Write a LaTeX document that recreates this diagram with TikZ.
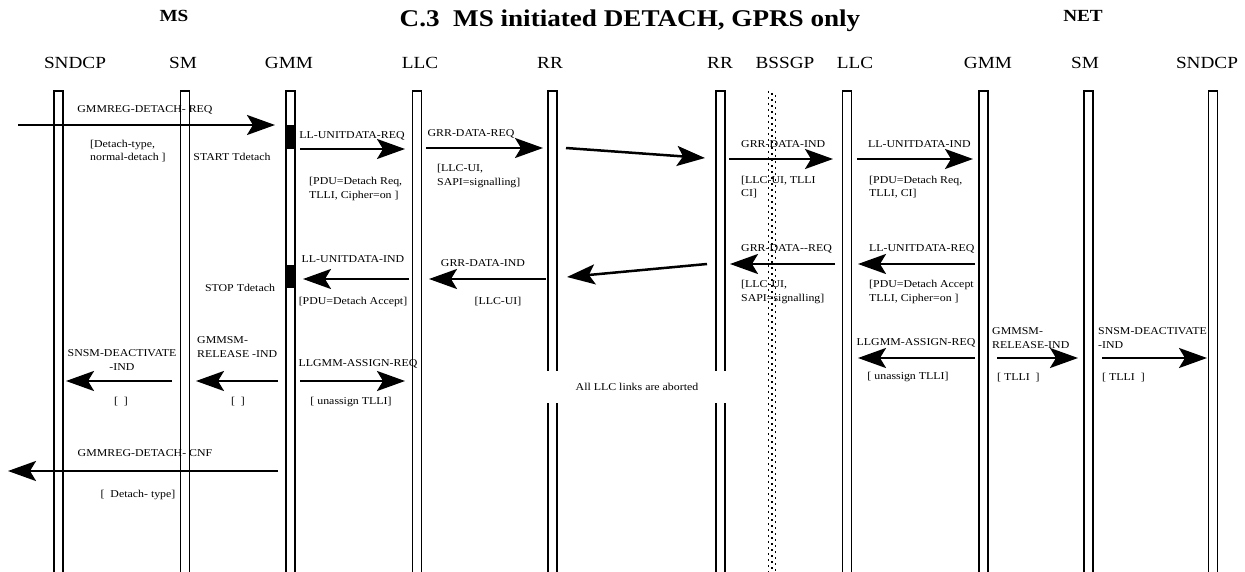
\documentclass[tikz,border=0pt]{standalone}
\usepackage{fontspec}
\setmainfont{Liberation Serif}[FakeStretch=1.13]
\usetikzlibrary{arrows.meta}
\tikzset{
  lbl/.style={font=\fontsize{10.5}{13.5}\selectfont, inner sep=0pt, align=left},
  lblc/.style={lbl, align=center},
  hdr/.style={font=\fontsize{17}{20}\selectfont, inner sep=0pt},
  msg/.style={line width=2.5pt, -{Stealth[length=28pt,width=20pt,inset=6pt]}},
  bar/.style={line width=1.1pt},
  dots/.style={line width=1.8pt, dash pattern=on 1.6pt off 4.4pt},
}
\begin{document}
\begin{tikzpicture}[x=1pt, y=-1pt, line join=miter]
  \useasboundingbox (0,0) rectangle (1245,572);
  % titles
  \node[hdr, font=\fontsize{17}{20}\selectfont\bfseries] (ms) at (174,16) {MS};
  \node[hdr, font=\fontsize{24}{28}\selectfont\bfseries] (title) at (630,21) {C.3\ \ MS initiated DETACH, GPRS only};
  \node[hdr, font=\fontsize{17}{20}\selectfont\bfseries] (net) at (1083,16) {NET};
  % layer names
  \foreach \x/\t/\n in {75/SNDCP/hsndcpMS, 183/SM/hsmMS, 289/GMM/hgmmMS, 420/LLC/hllcMS,
      550/RR/hrrMS, 720/RR/hrrNET, 785/BSSGP/hbssgp, 855/LLC/hllcNET, 988/GMM/hgmmNET,
      1085/SM/hsmNET, 1207/SNDCP/hsndcpNET}
    \node[hdr] (\n) at (\x,63) {\t};
  % lifelines
  \foreach \x/\n in {58.5/sndcpMS, 185/smMS, 290.5/gmmMS, 417/llcMS, 552.5/rrMS,
      720.5/rrNET, 847/llcNET, 983.5/gmmNET, 1088.5/smNET, 1213/sndcpNET} {
    \draw[bar] (\x-4.5,572) -- (\x-4.5,91) -- (\x+4.5,91) -- (\x+4.5,572);
    \coordinate (\n) at (\x,91);
  }
  % BSSGP boundary
  \draw[dots] (768.5,91) -- (768.5,572);
  \draw[dots, dash phase=4pt] (772,91) -- (772,572);
  \draw[dots, dash phase=2pt] (775.5,91) -- (775.5,572);
  % Tdetach running
  \fill (286,125) rectangle (295,149);
  \fill (286,265) rectangle (295,288);

  % detach request
  \draw[msg] (18,125) coordinate (m1s) -- (275,125) coordinate (m1e);
  \node[lblc] (m1) at (145,110) {GMMREG-DETACH- REQ};
  \node[lbl, anchor=west] (m1p) at (90,151) {[Detach-type,\\ normal-detach ]};
  \node[lblc] (tstart) at (232,157) {START Tdetach};
  \draw[msg] (300,149) coordinate (m2s) -- (405,149) coordinate (m2e);
  \node[lblc] (m2) at (352,136) {LL-UNITDATA-REQ};
  \node[lbl, anchor=west] (m2p) at (309,189) {[PDU=Detach Req,\\TLLI, Cipher=on ]};
  \draw[msg] (426,148) coordinate (m3s) -- (543,148) coordinate (m3e);
  \node[lblc] (m3) at (471,134) {GRR-DATA-REQ};
  \node[lbl, anchor=west] (m3p) at (437,176) {[LLC-UI,\\SAPI=signalling]};
  \draw[msg] (566,148) coordinate (m4s) -- (705,158) coordinate (m4e);
  \draw[msg] (729,159) coordinate (m5s) -- (833,159) coordinate (m5e);
  \node[lbl, anchor=west] (m5) at (741,144) {GRR-DATA-IND};
  \node[lbl, anchor=west] (m5p) at (741,187) {[LLC-UI, TLLI\\CI]};
  \draw[msg] (857,159) coordinate (m6s) -- (973,159) coordinate (m6e);
  \node[lbl, anchor=west] (m6) at (868,144) {LL-UNITDATA-IND};
  \node[lbl, anchor=west] (m6p) at (869,187) {[PDU=Detach Req,\\ TLLI, CI]};

  % detach accept
  \draw[msg] (975,264) coordinate (m7s) -- (858,264) coordinate (m7e);
  \node[lbl, anchor=west] (m7) at (869,249) {LL-UNITDATA-REQ};
  \node[lbl, anchor=west] (m7p) at (869,292) {[PDU=Detach Accept\\ TLLI, Cipher=on ]};
  \draw[msg] (835,264) coordinate (m8s) -- (730,264) coordinate (m8e);
  \node[lbl, anchor=west] (m8) at (741,249) {GRR-DATA-{}-REQ};
  \node[lbl, anchor=west] (m8p) at (741,292) {[LLC-UI,\\SAPI=signalling]};
  \draw[msg] (707,264) coordinate (m9s) -- (567,277) coordinate (m9e);
  \draw[msg] (546,279) coordinate (m10s) -- (429,279) coordinate (m10e);
  \node[lblc] (m10) at (483,263) {GRR-DATA-IND};
  \node[lblc] (m10p) at (498,302) {[LLC-UI]};
  \draw[msg] (409,279) coordinate (m11s) -- (303,279) coordinate (m11e);
  \node[lblc] (m11) at (353,259) {LL-UNITDATA-IND};
  \node[lblc] (m11p) at (353,302) {[PDU=Detach Accept]};
  \node[lblc] (tstop) at (240,288) {STOP Tdetach};

  % release on the MS side
  \draw[msg] (172,381) coordinate (m12s) -- (66,381) coordinate (m12e);
  \node[lblc] (m12) at (122,360) {SNSM-DEACTIVATE\\-IND};
  \node[lblc] (m12p) at (121,402) {[\ \ ]};
  \draw[msg] (278,381) coordinate (m13s) -- (196,381) coordinate (m13e);
  \node[lbl, anchor=west] (m13) at (197,347) {GMMSM-\\RELEASE -IND};
  \node[lblc] (m13p) at (238,402) {[\ \ ]};
  \draw[msg] (300,381) coordinate (m14s) -- (405,381) coordinate (m14e);
  \node[lblc] (m14) at (358,364) {LLGMM-ASSIGN-REQ};
  \node[lblc] (m14p) at (351,402) {[ unassign TLLI]};

  % release on the network side
  \draw[msg] (975,358) coordinate (m15s) -- (858,358) coordinate (m15e);
  \node[lblc] (m15) at (916,343) {LLGMM-ASSIGN-REQ};
  \node[lblc] (m15p) at (908,377) {[ unassign TLLI]};
  \draw[msg] (997,358) coordinate (m16s) -- (1078,358) coordinate (m16e);
  \node[lbl, anchor=west] (m16) at (992,338) {GMMSM-\\RELEASE-IND};
  \node[lbl, anchor=west] (m16p) at (997,378) {[ TLLI\ \ ]};
  \draw[msg] (1102,358) coordinate (m17s) -- (1207,358) coordinate (m17e);
  \node[lbl, anchor=west] (m17) at (1098,338) {SNSM-DEACTIVATE\\-IND};
  \node[lbl, anchor=west] (m17p) at (1102,378) {[ TLLI\ \ ]};

  \node[lblc, fill=white, minimum width=186pt, minimum height=32pt] (abort) at (637,387) {All LLC links are aborted};

  % detach confirm
  \draw[msg] (278,471) coordinate (m18s) -- (8,471) coordinate (m18e);
  \node[lblc] (m18) at (145,453) {GMMREG-DETACH- CNF};
  \node[lblc] (m18p) at (138,495) {[\ \ Detach- type]};
\end{tikzpicture}
\end{document}
